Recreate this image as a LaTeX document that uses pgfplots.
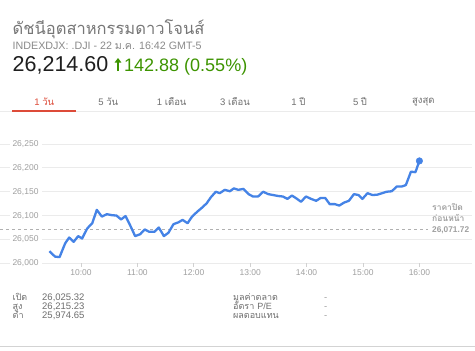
\documentclass[border=0pt]{standalone}
\usepackage{pgfplots}
\pgfplotsset{compat=1.18}
\usepackage{fontspec}
\setmainfont{Liberation Sans}
\newfontfamily\thai[Script=Thai]{Loma}
\usetikzlibrary{arrows.meta}

\definecolor{gblue}{HTML}{4583E6}
\definecolor{ggreen}{HTML}{3D9400}
\definecolor{gred}{HTML}{DD4B39}
\definecolor{gridgray}{HTML}{EBEBEB}
\definecolor{labelgray}{HTML}{A0A0A0}
\definecolor{titlegray}{HTML}{777777}
\definecolor{subgray}{HTML}{8A8A8A}
\definecolor{tabgray}{HTML}{707070}
\definecolor{dashgray}{HTML}{B0B0B0}
\definecolor{infogray}{HTML}{6E6E6E}

\newcommand{\fs}[1]{\fontsize{#1bp}{#1bp}\selectfont}

\begin{document}
\begin{tikzpicture}[x=1bp,y=1bp]
\path[use as bounding box, fill=white] (0,0) rectangle (475,350);

% header
\node[anchor=base west, inner sep=0, text=titlegray, font=\thai\fs{16.5}] at (12.5,316) {ดัชนีอุตสาหกรรมดาวโจนส์};
\node[anchor=base west, inner sep=0, text=subgray, font=\fs{10.7}] at (12.5,300.7) {INDEXDJX: .DJI - 22 {\thai ม.ค.} 16:42 GMT-5};
\node[anchor=base west, inner sep=0, text=black!88, font=\fs{21.5}] at (12.5,278.3) {26,214.60};
\draw[ggreen, line width=1.7bp, -{Triangle[width=6.5bp,length=4.5bp]}] (118,279) -- (118,292);
\node[anchor=base west, inner sep=0, text=ggreen, font=\fs{18}] at (124,278.3) {142.88 (0.55\%)};

% period tabs
\foreach \cx/\lbl in {108.3/{5 {\thai วัน}},171.7/{1 {\thai เดือน}},235/{3 {\thai เดือน}},298.3/{1 {\thai ปี}},360/{5 {\thai ปี}},423.3/{{\thai สูงสุด}}}
  \node[text=tabgray, font=\fs{9.5}, inner sep=0] at (\cx,248.3) {\lbl};
\node[text=gred, font=\fs{9.5}, inner sep=0] at (44.3,248.3) {1 {\thai วัน}};
\draw[gridgray, line width=0.8bp] (0,238.3) -- (475,238.3);
\draw[gred, line width=2bp] (12.3,239.3) -- (76,239.3);

% intraday chart
\begin{axis}[
  at={(0bp,86.7bp)}, anchor=south west,
  scale only axis, width=472bp, height=131.2bp,
  xmin=8.564, xmax=16.933, ymin=26000, ymax=26275,
  axis line style={draw=none},
  ymajorgrids, grid style={color=gridgray, line width=0.8bp},
  xtick={10,11,12,13,14,15,16},
  xticklabels={10:00,11:00,12:00,13:00,14:00,15:00,16:00},
  ytick={26000,26050,26100,26150,26200,26250},
  yticklabels={{26,000},{26,050},{26,100},{26,150},{26,200},{26,250}},
  scaled y ticks=false,
  tick pos=left,
  tick align=outside, major tick length=3.5bp,
  xtick style={color=black!18, line width=0.7bp},
  ytick style={draw=none},
  /pgf/number format/assume math mode=true,
  xticklabel style={text=labelgray, font=\fs{8.5}, inner sep=0, anchor=center, yshift=-5.8bp},
  yticklabel style={text=labelgray, font=\fs{8.5}, anchor=center, xshift=29bp, fill=white, inner xsep=3bp, inner ysep=1bp},
  clip=false,
]
% previous close
\addplot[dashgray, line width=0.8bp, dash pattern=on 3bp off 3bp] coordinates {(8.564,26071.72) (16.15,26071.72)};
% index level through the session
\addplot[gblue, line width=2.3bp, line join=round] coordinates {
(9.44,26025.32) (9.54,26014) (9.62,26013) (9.72,26042) (9.79,26054) (9.87,26045)
(9.95,26057) (10.02,26052) (10.11,26073) (10.20,26084) (10.28,26112) (10.37,26098)
(10.46,26103) (10.54,26101) (10.63,26100) (10.71,26092) (10.79,26099) (10.87,26080)
(10.96,26057) (11.05,26061) (11.13,26071) (11.21,26066) (11.30,26066) (11.38,26075)
(11.47,26057) (11.55,26064) (11.64,26082) (11.73,26086) (11.80,26091) (11.89,26084)
(11.97,26098) (12.06,26108) (12.15,26117) (12.23,26126) (12.30,26138) (12.39,26150)
(12.46,26147) (12.55,26154) (12.64,26151) (12.71,26157) (12.79,26154) (12.88,26156)
(12.97,26145) (13.05,26140) (13.14,26140) (13.23,26150) (13.32,26145) (13.41,26143)
(13.50,26141) (13.58,26140) (13.66,26135) (13.74,26142) (13.82,26136) (13.90,26129)
(13.99,26140) (14.08,26135) (14.17,26131) (14.25,26137) (14.33,26137) (14.41,26124)
(14.50,26124) (14.58,26121) (14.66,26127) (14.75,26131) (14.84,26145) (14.92,26143)
(14.99,26135) (15.08,26147) (15.17,26143) (15.26,26144) (15.34,26147) (15.42,26150)
(15.51,26151) (15.60,26161) (15.69,26161) (15.76,26164) (15.85,26192) (15.93,26191)
(16.00,26214.60)
};
\addplot[only marks, mark=*, mark size=3.3bp, gblue] coordinates {(16.00,26214.60)};
\end{axis}

% previous close label
\node[anchor=base west, inner sep=0, text=labelgray, font=\thai\bfseries\fs{8.5}] at (432,139.3) {ราคาปิด};
\node[anchor=base west, inner sep=0, text=labelgray, font=\thai\bfseries\fs{8.5}] at (432,128.3) {ก่อนหน้า};
\node[anchor=base west, inner sep=0, text=labelgray, font=\bfseries\fs{8.3}] at (432,117.8) {26,071.72};

% key statistics
\foreach \yy/\lab/\val in {50/{เปิด}/{26,025.32}, 40.7/{สูง}/{26,215.23}, 31.4/{ต่ำ}/{25,974.65}} {
  \node[anchor=base west, inner sep=0, text=infogray, font=\thai\fs{9}] at (12.5,\yy) {\lab};
  \node[anchor=base west, inner sep=0, text=infogray, font=\fs{9.5}] at (42,\yy) {\val};
}
\foreach \yy/\lab in {50/{มูลค่าตลาด}, 40.7/{อัตรา {\fontspec{Liberation Sans}P/E}}, 31.4/{ผลตอบแทน}} {
  \node[anchor=base west, inner sep=0, text=infogray, font=\thai\fs{9}] at (233,\yy) {\lab};
  \node[anchor=base west, inner sep=0, text=labelgray, font=\fs{9.5}] at (324,\yy) {-};
}
\draw[gridgray!90!black, line width=1bp] (0,3.3) -- (475,3.3);
\end{tikzpicture}
\end{document}
